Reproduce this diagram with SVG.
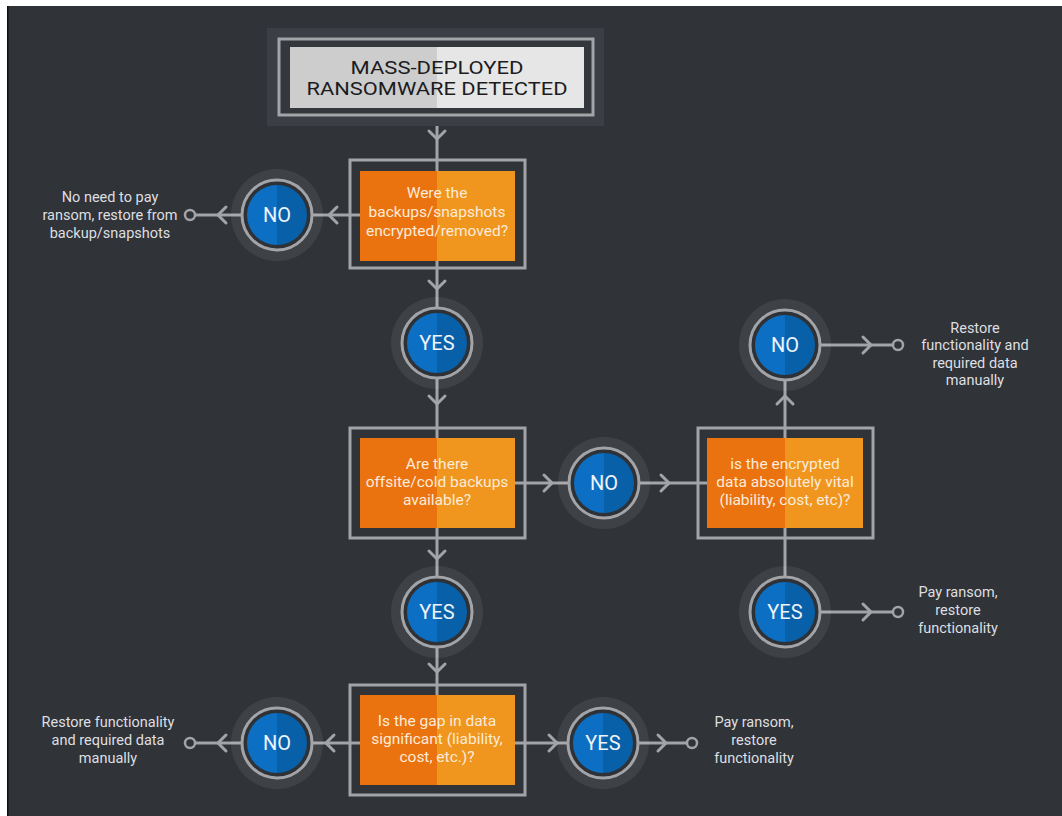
<svg xmlns="http://www.w3.org/2000/svg" xmlns:xlink="http://www.w3.org/1999/xlink" width="1062" height="816" viewBox="0 0 1062 816">
<defs>
<style>
.ln{stroke:#a2a4a7;stroke-width:3;fill:none}
.chev{stroke:#a2a4a7;stroke-width:3;fill:none;stroke-linecap:round;stroke-linejoin:miter}
.end{stroke:#a2a4a7;stroke-width:2.5;fill:#303338}
.halo{fill:#ffffff;fill-opacity:0.07}
.ring{stroke:#a2a4a7;stroke-width:3;fill:#2e3136}
.bl{fill:#0c6fc4}
.br{fill:#0860a9}
.ct{font-family:Roboto,"Liberation Sans",sans-serif;font-size:20px;fill:#eef4fa;text-anchor:middle}
.bord{stroke:#a2a4a7;stroke-width:3;fill:none}
.ol{fill:#ea720f}
.or{fill:#f0951d}
.dt{font-family:Roboto,"Liberation Sans",sans-serif;font-size:15.5px;fill:#fcebd8;text-anchor:middle}
.st{font-family:Roboto,"Liberation Sans",sans-serif;font-size:14.5px;fill:#dedfe0;text-anchor:middle}
.tt{font-family:Roboto,"Liberation Sans",sans-serif;font-size:18.5px;fill:#1c1c1e;text-anchor:middle}
</style>
<path id="chev" class="chev" d="M-7,-8 L1,0 L-7,8"/>
<g id="circ">
<circle class="halo" r="46"/>
<circle class="ring" r="35"/>
<path class="bl" d="M0,-30 A30,30 0 0 0 0,30 Z"/>
<path class="br" d="M0,-30 A30,30 0 0 1 0,30 Z"/>
</g>
</defs>
<rect width="1062" height="816" fill="#ffffff"/>
<rect x="7" y="6" width="1055" height="810" fill="#303338"/>
<rect x="7" y="6" width="1.5" height="810" fill="#0e0f10"/>

<g id="connectors">
<line class="ln" x1="437" y1="108" x2="437" y2="695"/>
<line class="ln" x1="195" y1="215" x2="360" y2="215"/>
<line class="ln" x1="515" y1="483" x2="707" y2="483"/>
<line class="ln" x1="785" y1="345" x2="785" y2="612"/>
<line class="ln" x1="785" y1="345" x2="893" y2="345"/>
<line class="ln" x1="785" y1="612" x2="893" y2="612"/>
<line class="ln" x1="195" y1="743" x2="360" y2="743"/>
<line class="ln" x1="515" y1="743" x2="687" y2="743"/>
<use xlink:href="#chev" transform="translate(437,138) rotate(90)"/>
<use xlink:href="#chev" transform="translate(437,288) rotate(90)"/>
<use xlink:href="#chev" transform="translate(437,403) rotate(90)"/>
<use xlink:href="#chev" transform="translate(437,558) rotate(90)"/>
<use xlink:href="#chev" transform="translate(437,671) rotate(90)"/>
<use xlink:href="#chev" transform="translate(330,215) rotate(180)"/>
<use xlink:href="#chev" transform="translate(219,215) rotate(180)"/>
<use xlink:href="#chev" transform="translate(327,743) rotate(180)"/>
<use xlink:href="#chev" transform="translate(219,743) rotate(180)"/>
<use xlink:href="#chev" transform="translate(551,483)"/>
<use xlink:href="#chev" transform="translate(668,483)"/>
<use xlink:href="#chev" transform="translate(556,743)"/>
<use xlink:href="#chev" transform="translate(665,743)"/>
<use xlink:href="#chev" transform="translate(870,345)"/>
<use xlink:href="#chev" transform="translate(870,612)"/>
<use xlink:href="#chev" transform="translate(785,397) rotate(-90)"/>
<circle class="end" cx="190" cy="215" r="5"/>
<circle class="end" cx="190" cy="743" r="5"/>
<circle class="end" cx="692" cy="743" r="5"/>
<circle class="end" cx="898" cy="345" r="5"/>
<circle class="end" cx="898" cy="612" r="5"/>
</g>

<g id="title">
<rect x="267" y="28" width="337" height="98" fill="#3b3e44"/>
<rect x="279" y="39" width="314" height="76" fill="#34373c" stroke="#a2a4a7" stroke-width="3"/>
<rect x="290" y="47" width="147" height="61" fill="#cdcdcd"/>
<rect x="437" y="47" width="147" height="61" fill="#e6e6e6"/>
<text class="tt" x="437" y="74" textLength="173" lengthAdjust="spacingAndGlyphs">MASS-DEPLOYED</text>
<text class="tt" x="437" y="95" textLength="261" lengthAdjust="spacingAndGlyphs">RANSOMWARE DETECTED</text>
</g>

<g id="q1">
<rect class="bord" x="350" y="160" width="175" height="108"/>
<rect class="ol" x="360" y="171" width="77" height="90"/>
<rect class="or" x="437" y="171" width="78" height="90"/>
<text class="dt" x="437" y="198">Were the</text>
<text class="dt" x="437" y="217">backups/snapshots</text>
<text class="dt" x="437" y="236">encrypted/removed?</text>
</g>

<g id="q2">
<rect class="bord" x="350" y="428" width="175" height="110"/>
<rect class="ol" x="360" y="438" width="77" height="90"/>
<rect class="or" x="437" y="438" width="78" height="90"/>
<text class="dt" x="437" y="469">Are there</text>
<text class="dt" x="437" y="487">offsite/cold backups</text>
<text class="dt" x="437" y="505">available?</text>
</g>

<g id="q3">
<rect class="bord" x="698" y="428" width="175" height="110"/>
<rect class="ol" x="707" y="438" width="78" height="90"/>
<rect class="or" x="785" y="438" width="78" height="90"/>
<text class="dt" x="785" y="469">is the encrypted</text>
<text class="dt" x="785" y="487">data absolutely vital</text>
<text class="dt" x="785" y="505">(liability, cost, etc)?</text>
</g>

<g id="q4">
<rect class="bord" x="350" y="685" width="175" height="110"/>
<rect class="ol" x="360" y="695" width="77" height="90"/>
<rect class="or" x="437" y="695" width="78" height="90"/>
<text class="dt" x="437" y="726">Is the gap in data</text>
<text class="dt" x="437" y="744">significant (liability,</text>
<text class="dt" x="437" y="762">cost, etc.)?</text>
</g>

<g id="no1"><use xlink:href="#circ" x="277" y="215"/><text class="ct" x="277" y="222">NO</text></g>
<g id="yes1"><use xlink:href="#circ" x="437" y="343"/><text class="ct" x="437" y="350">YES</text></g>
<g id="no2"><use xlink:href="#circ" x="604" y="483"/><text class="ct" x="604" y="490">NO</text></g>
<g id="no3"><use xlink:href="#circ" x="785" y="345"/><text class="ct" x="785" y="352">NO</text></g>
<g id="yes2"><use xlink:href="#circ" x="437" y="612"/><text class="ct" x="437" y="619">YES</text></g>
<g id="yes3"><use xlink:href="#circ" x="785" y="612"/><text class="ct" x="785" y="619">YES</text></g>
<g id="no4"><use xlink:href="#circ" x="277" y="743"/><text class="ct" x="277" y="750">NO</text></g>
<g id="yes4"><use xlink:href="#circ" x="603" y="743"/><text class="ct" x="603" y="750">YES</text></g>

<g id="out1">
<text class="st" x="110" y="202">No need to pay</text>
<text class="st" x="110" y="220">ransom, restore from</text>
<text class="st" x="110" y="238">backup/snapshots</text>
</g>
<g id="out2">
<text class="st" x="975" y="333">Restore</text>
<text class="st" x="975" y="350">functionality and</text>
<text class="st" x="975" y="368">required data</text>
<text class="st" x="975" y="385">manually</text>
</g>
<g id="out3">
<text class="st" x="958" y="597">Pay ransom,</text>
<text class="st" x="958" y="615">restore</text>
<text class="st" x="958" y="633">functionality</text>
</g>
<g id="out4">
<text class="st" x="108" y="727">Restore functionality</text>
<text class="st" x="108" y="745">and required data</text>
<text class="st" x="108" y="763">manually</text>
</g>
<g id="out5">
<text class="st" x="754" y="727">Pay ransom,</text>
<text class="st" x="754" y="745">restore</text>
<text class="st" x="754" y="763">functionality</text>
</g>
</svg>
